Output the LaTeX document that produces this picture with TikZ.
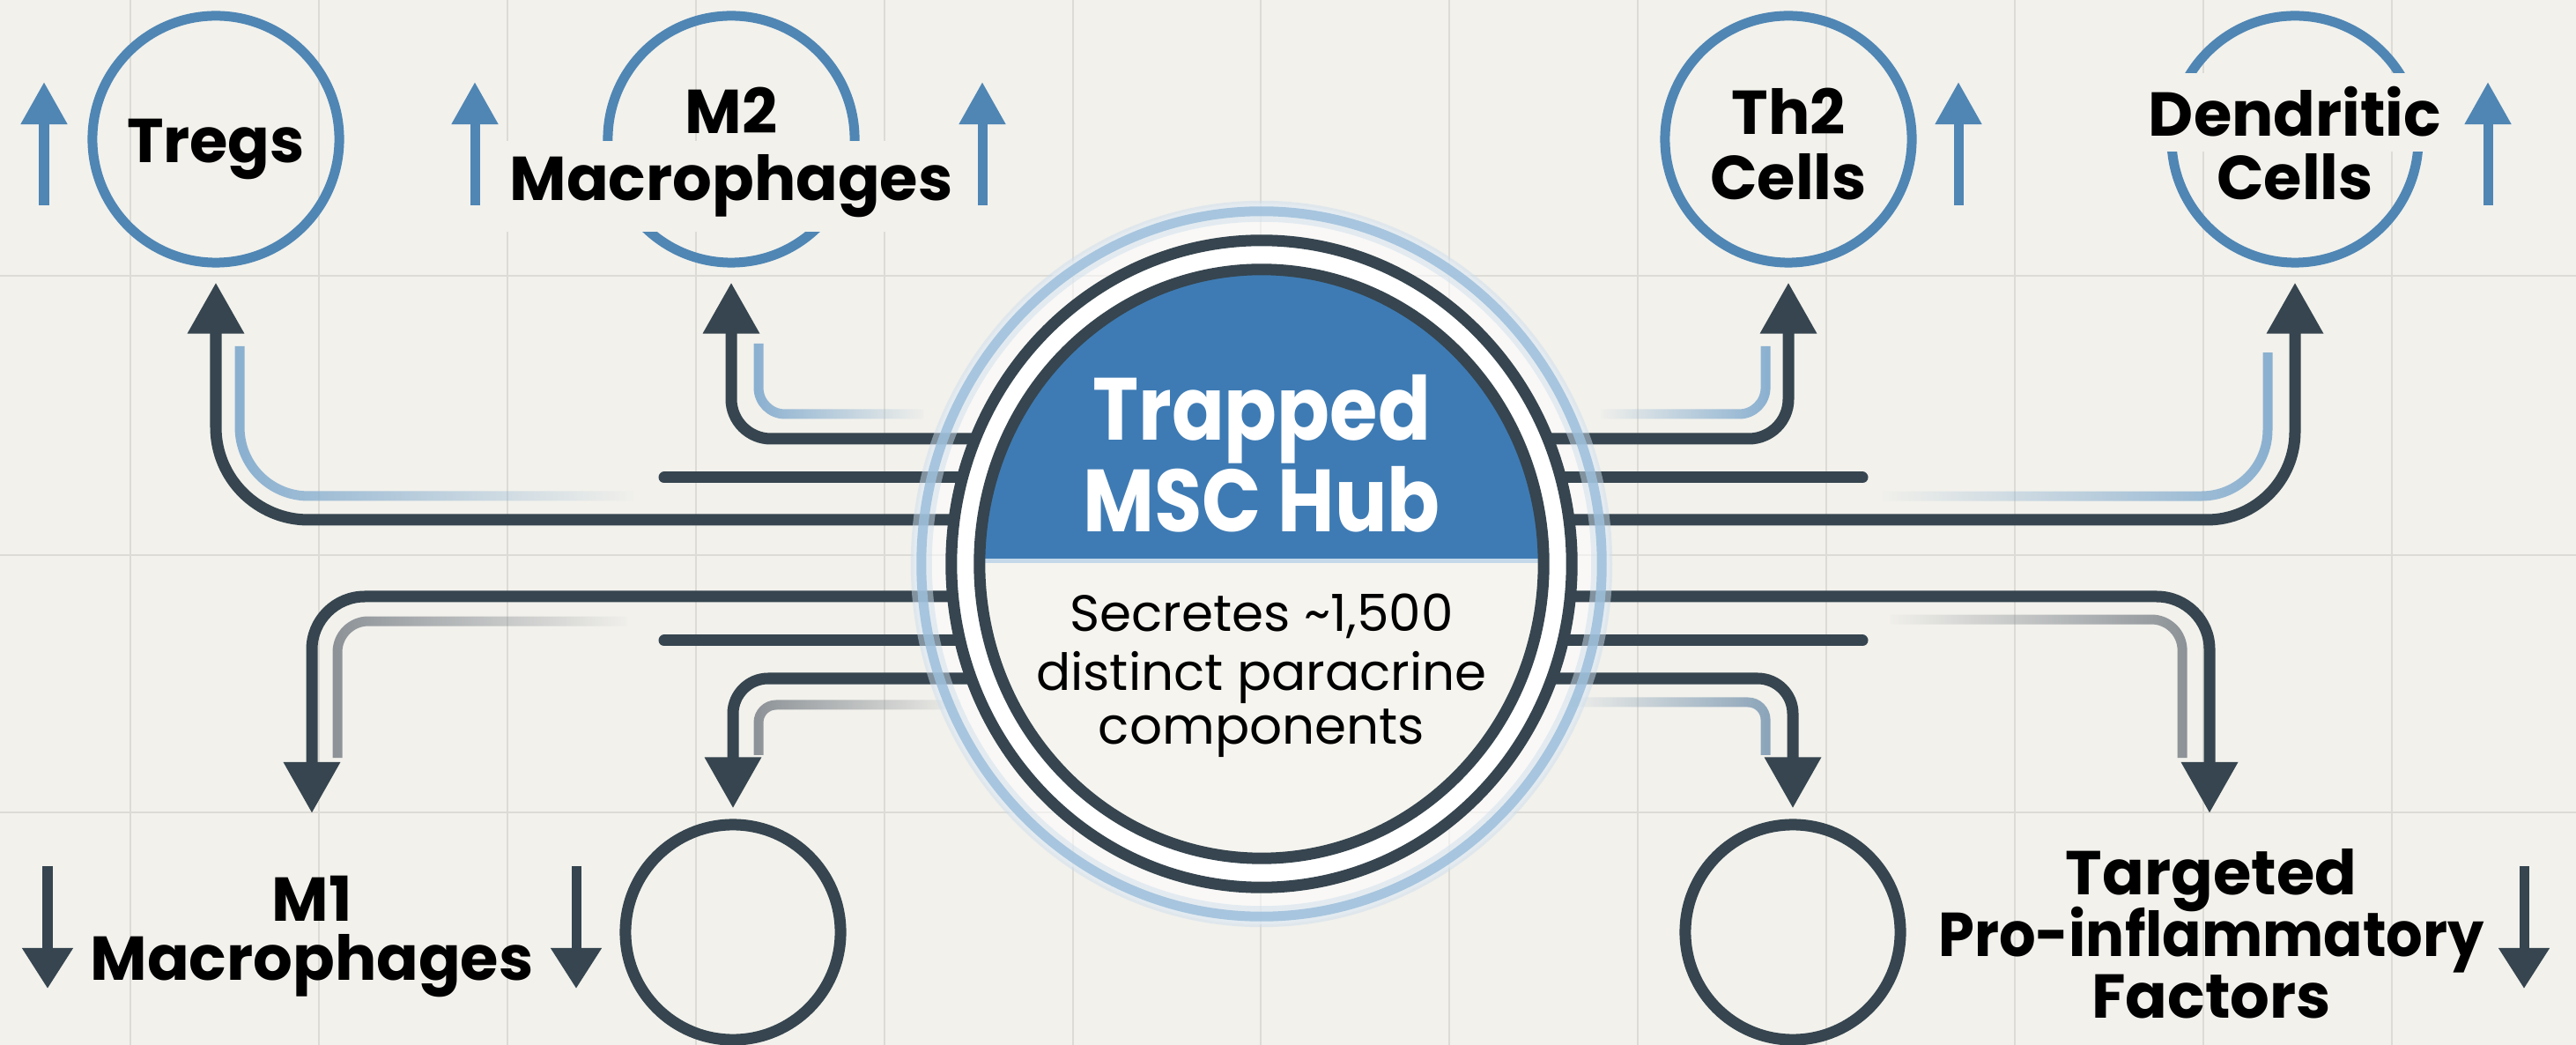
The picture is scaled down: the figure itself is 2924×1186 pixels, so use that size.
\documentclass[tikz,border=0pt]{standalone}
\usepackage{fontspec}
\setmainfont{Poppins}
\usetikzlibrary{arrows.meta,fadings}
\definecolor{bg}{HTML}{F2F1EC}
\definecolor{gridc}{HTML}{DCDBD5}
\definecolor{slate}{HTML}{36454F}
\definecolor{hubblue}{HTML}{3E7BB4}
\definecolor{cellblue}{HTML}{4F86B4}
\definecolor{ringblue}{HTML}{9DBFDB}
\definecolor{shblue}{HTML}{8AB0D0}
\definecolor{shgray}{HTML}{8C9297}
\definecolor{paper}{HTML}{F5F4EF}
\tikzfading[name=fadeR, left color=transparent!0, middle color=transparent!20, right color=transparent!100]
\tikzfading[name=fadeL, left color=transparent!100, middle color=transparent!20, right color=transparent!0]
\tikzset{
  conn/.style={draw=slate, line width=0.13cm, -{Triangle[length=0.58cm, width=0.61cm]}},
  stub/.style={draw=slate, line width=0.13cm, line cap=round},
  shadowB/.style={draw=shblue, line width=0.11cm},
  shadowG/.style={draw=shgray, line width=0.11cm},
  cellring/.style={circle, draw=cellblue, line width=0.11cm, minimum size=2.8cm, inner sep=0pt},
  darkring/.style={circle, draw=slate, line width=0.13cm, minimum size=2.44cm, inner sep=0pt},
  lbl/.style={font=\fontsize{20}{24}\selectfont\bfseries, text=black, inner sep=0pt, anchor=base},
  gaplbl/.style={lbl, fill=bg, inner xsep=0.1cm, inner ysep=0.16cm},
  hubtitle/.style={font=\fontsize{28.5}{32}\selectfont\bfseries, text=white, inner sep=0pt, anchor=base},
  hubtext/.style={font=\fontsize{16.5}{20}\selectfont, text=black, inner sep=0pt, anchor=base},
  uparrow/.style={draw=cellblue, line width=0.11cm, -{Triangle[length=0.48cm, width=0.5cm]}},
  downarrow/.style={draw=slate, line width=0.11cm, -{Triangle[length=0.46cm, width=0.55cm]}},
  gridline/.style={draw=gridc, line width=0.025cm}
}
\begin{document}
\begin{tikzpicture}[x=0.01cm, y=-0.01cm]
\useasboundingbox (0,0) rectangle (2924,1186);
\fill[bg] (0,0) rectangle (2924,1186);
% grid
\foreach \gx in {148,362,576,790,1004,1218,1431,1645,1859,2073,2287,2501,2715}
  \draw[gridline] (\gx,0) -- (\gx,1186);
\foreach \gy in {313,630,922}
  \draw[gridline] (0,\gy) -- (2924,\gy);

% ---------- cell circles ----------
\node[cellring] (tregs) at (245,158) {};
\node[cellring] (m2c) at (830,158) {};
\node[cellring] (th2c) at (2030,158) {};
\node[cellring] (dendc) at (2605,158) {};
\node[darkring] (blc) at (832,1058) {};
\node[darkring] (brc) at (2035,1058) {};

% ---------- labels ----------
\node[lbl] (tregsT) at (245,185) {Tregs};
\node[lbl] (m2a) at (830,152) {M2};
\node[gaplbl] (m2b) at (830,228) {Macrophages};
\node[lbl] (th2a) at (2030,153) {Th2};
\node[lbl] (th2b) at (2030,227) {Cells};
\node[gaplbl] (denda) at (2605,155) {Dendritic};
\node[lbl] (dendb) at (2605,227) {Cells};
\node[lbl] (m1a) at (354,1045) {M1};
\node[lbl] (m1b) at (354,1112) {Macrophages};
\node[lbl] (tga) at (2510,1015) {Targeted};
\node[lbl] (tgb) at (2510,1085) {\scalebox{0.93}[1]{Pro-inflammatory}};
\node[lbl] (tgc) at (2510,1155) {Factors};

% ---------- indicator arrows ----------
\foreach \ax/\nm in {50/ua, 539/ub, 1115/uc, 2223/ud, 2824/ue}{
  \coordinate (\nm s) at (\ax,233);
  \coordinate (\nm e) at (\ax,93);
  \draw[uparrow] (\nm s) -- (\nm e);
}
\foreach \ax/\nm in {54/da, 654/db, 2865/dc}{
  \coordinate (\nm s) at (\ax,983);
  \coordinate (\nm e) at (\ax,1122);
  \draw[downarrow] (\nm s) -- (\nm e);
}

% ---------- hub glow ----------
\coordinate (hub) at (1432,640);
\fill[white, opacity=0.55] (hub) ellipse [x radius=3.95cm, y radius=4.09cm];

% ---------- shadows ----------
\draw[shadowB, rounded corners=0.78cm, path fading=fadeR] (272,393) |- (719,563);
\draw[shadowB, rounded corners=0.3cm, path fading=fadeR] (861,390) |- (1048,470);
\draw[shadowB, rounded corners=0.3cm, path fading=fadeL] (2004,393) |- (1817,470);
\draw[shadowB, rounded corners=0.75cm, path fading=fadeL] (2574,400) |- (2137,563);
\draw[shadowG, rounded corners=0.35cm, path fading=fadeR] (383,860) |- (712,705);
\draw[shadowG, rounded corners=0.2cm, path fading=fadeR] (861,857) |- (1090,800);
\draw[shadowG, rounded corners=0.35cm, path fading=fadeL] (2477,860) |- (2145,703);
\draw[draw=shblue!60!shgray, rounded corners=0.2cm, line width=0.11cm, path fading=fadeL] (2004,857) |- (1780,797);

% ---------- connectors ----------
\coordinate (h1) at (1432,498);
\coordinate (h2) at (1432,542);
\coordinate (h3) at (1432,590);
\coordinate (h4) at (1432,677);
\coordinate (h5) at (1432,727);
\coordinate (h6) at (1432,770);
\coordinate (sL1) at (754,542);
\coordinate (sL2) at (754,727);
\coordinate (sR1) at (2114,542);
\coordinate (sR2) at (2114,727);
\coordinate (m1tip) at (354,923);
\coordinate (tgtip) at (2508,923);

\draw[conn, rounded corners=0.45cm, shorten >=0.17cm] (h1) -| (m2c.south);
\draw[conn, rounded corners=1.05cm, shorten >=0.17cm] (h3) -| (tregs.south);
\draw[conn, rounded corners=0.6cm] (h4) -| (m1tip);
\draw[conn, rounded corners=0.4cm, shorten >=0.12cm] (h6) -| (blc.north);
\draw[conn, rounded corners=0.45cm, shorten >=0.17cm] (h1) -| (th2c.south);
\draw[conn, rounded corners=1.0cm, shorten >=0.17cm] (h3) -| (dendc.south);
\draw[conn, rounded corners=0.6cm] (h4) -| (tgtip);
\draw[conn, rounded corners=0.4cm, shorten >=0.12cm] (h6) -| (brc.north);
\draw[stub] (h2) -- (sL1);
\draw[stub] (h5) -- (sL2);
\draw[stub] (h2) -- (sR1);
\draw[stub] (h5) -- (sR2);

% ---------- hub ----------
\draw[ringblue!50, line width=0.24cm, opacity=0.5] (hub) ellipse [x radius=3.86cm, y radius=4.0cm];
\draw[ringblue, line width=0.11cm, opacity=0.85] (hub) ellipse [x radius=3.86cm, y radius=4.0cm];
\draw[slate, line width=0.13cm, fill=white] (hub) ellipse [x radius=3.52cm, y radius=3.67cm];
\begin{scope}
  \clip (hub) ellipse [x radius=3.2cm, y radius=3.34cm];
  \fill[hubblue] (1050,250) rectangle (1820,637);
  \fill[paper] (1050,637) rectangle (1820,1030);
  \draw[ringblue!60!white, line width=0.05cm] (1050,637) -- (1820,637);
\end{scope}
\draw[slate, line width=0.13cm] (hub) ellipse [x radius=3.2cm, y radius=3.34cm];

\node[hubtitle] (ht1) at (1432,500) {\scalebox{0.88}[1]{Trapped}};
\node[hubtitle] (ht2) at (1432,604) {\scalebox{0.88}[1]{MSC Hub}};
\node[hubtext] (hs1) at (1432,717) {Secretes \textasciitilde1,500};
\node[hubtext] (hs2) at (1432,784) {distinct paracrine};
\node[hubtext] (hs3) at (1432,845) {components};
\end{tikzpicture}
\end{document}
